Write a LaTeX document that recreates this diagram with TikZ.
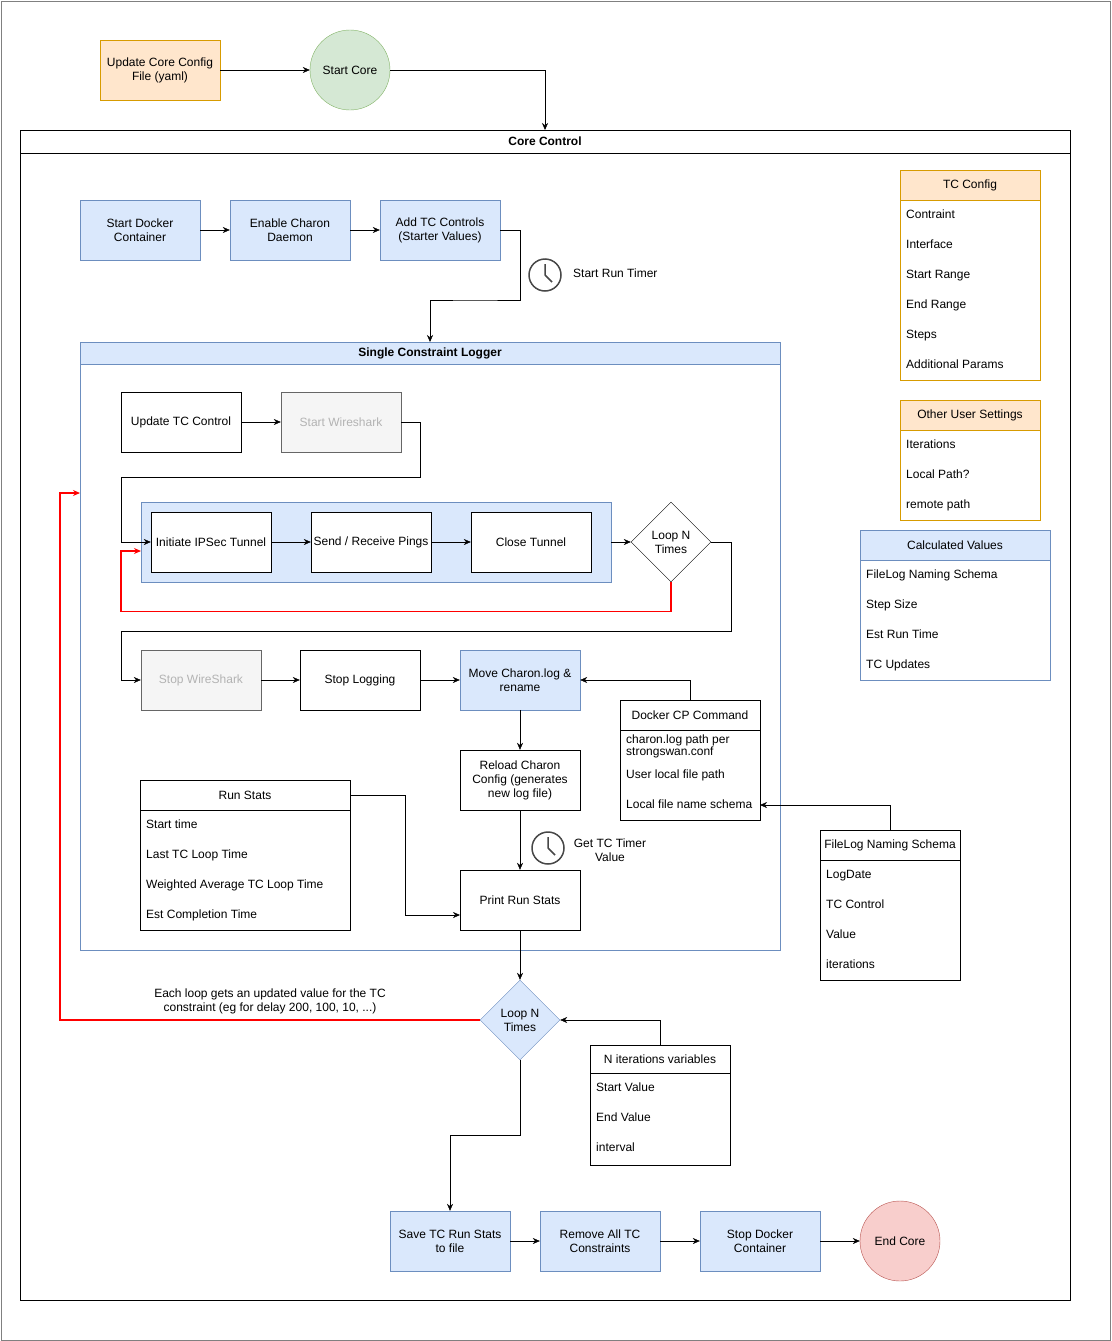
\documentclass[tikz,border=0pt]{standalone}
\usepackage{fontspec}
\setmainfont{Liberation Sans}
\usetikzlibrary{arrows.meta,positioning,shapes.geometric}

\definecolor{bluefill}{HTML}{DAE8FC}
\definecolor{blueline}{HTML}{6C8EBF}
\definecolor{orangefill}{HTML}{FFE6CC}
\definecolor{orangeline}{HTML}{D79B00}
\definecolor{greenfill}{HTML}{D5E8D4}
\definecolor{greenline}{HTML}{82B366}
\definecolor{redfill}{HTML}{F8CECC}
\definecolor{redline}{HTML}{B85450}
\definecolor{grayfill}{HTML}{F5F5F5}
\definecolor{grayline}{HTML}{666666}
\definecolor{graytext}{HTML}{B3B3B3}

\tikzset{
  box/.style={draw, minimum width=120, minimum height=60, align=center, inner sep=1},
  bluebox/.style={box, fill=bluefill, draw=blueline},
  graybox/.style={box, fill=grayfill, draw=grayline, text=graytext},
  item/.style={anchor=west, inner sep=0, text height=9, text depth=3},
  arr/.style={-{Stealth[length=7,width=6]}},
  redarr/.style={arr, red, line width=1.3},
  loop/.style={diamond, draw, minimum width=80, minimum height=80, align=center, inner sep=0},
}
\newcommand\clock[1]{%
  \draw[line width=1.5, draw=grayline!70!black] (#1) circle (16);
  \draw[line width=1.5, draw=grayline!70!black] (#1) -- ++(0,-11) (#1) -- ++(7,7);}

\begin{document}
\begin{tikzpicture}[x=1pt, y=-1pt, font=\fontsize{12}{14}\selectfont, >=Stealth]
  \useasboundingbox (0,0) rectangle (1111,1341);
  \draw[gray] (1,1) rectangle (1110,1340);

  % top
  \node[box, fill=orangefill, draw=orangeline] (cfg) at (160,70) {Update Core Config\\File (yaml)};
  \node[circle, draw=greenline, fill=greenfill, minimum size=80] (start) at (350,70) {Start Core};
  \draw[arr] (cfg) -- (start);

  % core control
  \draw (20,130) rectangle (1070,1300);
  \draw (20,153) -- (1070,153);
  \node[font=\fontsize{12}{14}\selectfont\bfseries] (core) at (545,141.5) {Core Control};
  \coordinate (coretop) at (545,130);
  \draw[arr] (start) -| (coretop);

  \node[bluebox] (docker) at (140,230) {Start Docker\\Container};
  \node[bluebox] (charon) at (290,230) {Enable Charon\\Daemon};
  \node[bluebox] (addtc) at (440,230) {Add TC Controls\\(Starter Values)};
  \draw[arr] (docker) -- (charon);
  \draw[arr] (charon) -- (addtc);

  \clock{545,275}
  \node[item] (runtimer) at (573,274) {Start Run Timer};

  % single constraint logger
  \draw[blueline] (80,342) rectangle (780,950);
  \draw[blueline, fill=bluefill] (80,342) rectangle (780,364);
  \node[font=\fontsize{12}{14}\selectfont\bfseries] (scl) at (430,353) {Single Constraint Logger};
  \coordinate (scltop) at (430,342);
  \draw[arr] (addtc.east) -- ++(20,0) |- (475,300) -| (scltop);

  \node[box] (update) at (181,422) {Update TC Control};
  \node[graybox] (wire) at (341,422) {Start Wireshark};
  \draw[arr] (update) -- (wire);

  \draw[blueline, fill=bluefill] (141,502) rectangle (611,582);
  \node[box, fill=white] (ipsec) at (211,542) {Initiate IPSec Tunnel};
  \node[box, fill=white] (pings) at (371,542) {Send / Receive Pings};
  \node[box, fill=white] (close) at (531,542) {Close Tunnel};
  \node[loop] (loopa) at (671,542) {Loop N\\Times};
  \draw[arr] (wire.east) -- ++(19,0) |- (121,477) |- (ipsec.west);
  \draw[arr] (ipsec) -- (pings);
  \draw[arr] (pings) -- (close);
  \draw[arr] (611,542) -- (loopa);
  \draw[redarr] (loopa.south) -- ++(0,29) -| (121,551) -- (141,551);

  \node[graybox] (stopws) at (201,680) {Stop WireShark};
  \node[box] (stoplog) at (360,680) {Stop Logging};
  \node[bluebox] (move) at (520,680) {Move Charon.log \&\\rename};
  \draw[arr] (loopa.east) -- ++(20,0) |- (121,631) |- (stopws.west);
  \draw[arr] (stopws) -- (stoplog);
  \draw[arr] (stoplog.east) -- (move.west);

  \node[box] (reload) at (520,780) {Reload Charon\\Config (generates\\new log file)};
  \node[box] (print) at (520,900) {Print Run Stats};
  \draw[arr] (move) -- (reload);
  \draw[arr] (reload) -- (print);
  \clock{548,848}
  \node[align=center] (timer) at (610,850) {Get TC Timer\\Value};

  % docker cp list
  \draw (620,700) rectangle (760,820);
  \draw (620,730) -- (760,730);
  \node (dcp) at (690,715) {Docker CP Command};
  \node[anchor=west, inner sep=0, align=left, font=\fontsize{12}{11}\selectfont] (dcpa) at (626,746) {charon.log path per\\strongswan.conf};
  \node[item] (dcpb) at (626,775) {User local file path};
  \node[item] (dcpc) at (626,805) {Local file name schema};
  \draw[arr] (690,700) |- (move.east);

  % filelog list
  \draw (820,830) rectangle (960,980);
  \draw (820,860) -- (960,860);
  \node (flog) at (890,845) {FileLog Naming Schema};
  \node[item] (floga) at (826,875) {LogDate};
  \node[item] (flogb) at (826,905) {TC Control};
  \node[item] (flogc) at (826,935) {Value};
  \node[item] (flogd) at (826,965) {iterations};
  \draw[arr] (890,830) |- (760,805);

  % run stats list
  \draw (140,780) rectangle (350,930);
  \draw (140,810) -- (350,810);
  \node (rstats) at (245,795) {Run Stats};
  \node[item] (rsa) at (146,825) {Start time};
  \node[item] (rsb) at (146,855) {Last TC Loop Time};
  \node[item] (rsc) at (146,885) {Weighted Average TC Loop Time};
  \node[item] (rsd) at (146,915) {Est Completion Time};
  \draw[arr] (350,795) -- (405,795) |- (460,915);

  % outer loop
  \node[loop, fill=bluefill, draw=blueline] (loopb) at (520,1020) {Loop N\\Times};
  \draw[arr] (print) -- (loopb);
  \draw[redarr] (loopb.west) -- (60,1020) |- (80,493);
  \node[align=center] (note) at (270,1001) {Each loop gets an updated value for the TC\\constraint (eg for delay 200, 100, 10, ...)};

  \draw (590,1045) rectangle (730,1165);
  \draw (590,1073) -- (730,1073);
  \node (niter) at (660,1059) {N iterations variables};
  \node[item] (nitera) at (596,1088) {Start Value};
  \node[item] (niterb) at (596,1118) {End Value};
  \node[item] (niterc) at (596,1148) {interval};
  \draw[arr] (660,1045) |- (loopb.east);

  % bottom row
  \node[bluebox] (save) at (450,1241) {Save TC Run Stats\\to file};
  \node[bluebox] (remove) at (600,1241) {Remove All TC\\Constraints};
  \node[bluebox] (stopdock) at (760,1241) {Stop Docker\\Container};
  \node[circle, draw=redline, fill=redfill, minimum size=80] (endcore) at (900,1241) {End Core};
  \draw[arr] (loopb.south) -- (520,1135) -| (save.north);
  \draw[arr] (save) -- (remove);
  \draw[arr] (remove) -- (stopdock);
  \draw[arr] (stopdock) -- (endcore);

  % settings lists
  \draw[orangeline, fill=white] (900,170) rectangle (1040,380);
  \draw[orangeline, fill=orangefill] (900,170) rectangle (1040,200);
  \node (tccfg) at (970,185) {TC Config};
  \foreach \t [count=\i] in {Contraint, Interface, Start Range, End Range, Steps, Additional Params}
    \node[item] (tc\i) at (906,185+30*\i) {\t};

  \draw[orangeline, fill=white] (900,400) rectangle (1040,520);
  \draw[orangeline, fill=orangefill] (900,400) rectangle (1040,430);
  \node (users) at (970,415) {Other User Settings};
  \foreach \t [count=\i] in {Iterations, Local Path?, remote path}
    \node[item] (us\i) at (906,415+30*\i) {\t};

  \draw[blueline, fill=white] (860,530) rectangle (1050,680);
  \draw[blueline, fill=bluefill] (860,530) rectangle (1050,560);
  \node (calc) at (955,545) {Calculated Values};
  \foreach \t [count=\i] in {FileLog Naming Schema, Step Size, Est Run Time, TC Updates}
    \node[item] (cv\i) at (866,545+30*\i) {\t};
\end{tikzpicture}
\end{document}
